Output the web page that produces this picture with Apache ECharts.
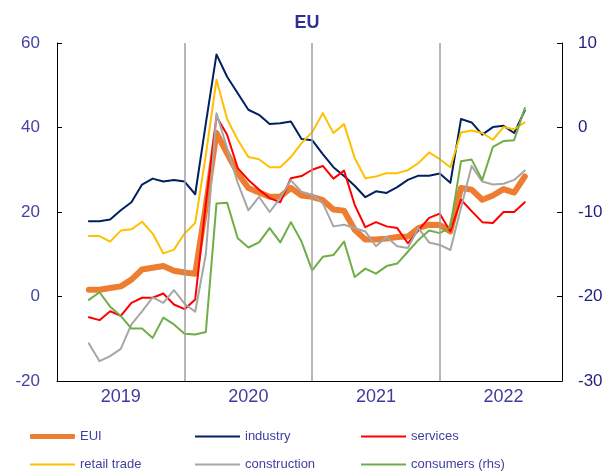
<!DOCTYPE html>
<html>
<head>
<meta charset="utf-8">
<script src="https://cdn.jsdelivr.net/npm/echarts@6/dist/echarts.min.js"></script>
<style>
html,body{margin:0;padding:0;background:#fff;}
#chart{width:614px;height:474px;}
</style>
</head>
<body>
<div id="chart"></div>
<script>
// Monthly observations, Apr 2019 - Sep 2022
const months = [
  '2019-04','2019-05','2019-06','2019-07','2019-08','2019-09','2019-10','2019-11','2019-12',
  '2020-01','2020-02','2020-03','2020-04','2020-05','2020-06','2020-07','2020-08','2020-09','2020-10','2020-11','2020-12',
  '2021-01','2021-02','2021-03','2021-04','2021-05','2021-06','2021-07','2021-08','2021-09','2021-10','2021-11','2021-12',
  '2022-01','2022-02','2022-03','2022-04','2022-05','2022-06','2022-07','2022-08','2022-09'
];
const years = ['2019','2020','2021','2022'];

const eui = [1.6,1.6,2.0,2.4,4.0,6.4,6.8,7.2,6.1,5.7,5.4,21.5,38.7,33.9,29.2,25.7,24.6,23.6,23.6,25.7,
  23.9,23.6,22.8,20.6,20.3,15.8,13.5,13.5,13.7,14.1,14.2,16.2,17.0,16.9,15.4,25.7,25.3,22.9,23.9,25.4,24.6,28.4];
const industry = [17.8,17.8,18.2,20.4,22.3,26.5,27.9,27.2,27.6,27.2,24.2,41.0,57.3,52.0,48.1,44.2,43.0,40.8,41.0,41.4,
  37.3,37.0,33.7,30.6,28.5,26.2,23.5,24.9,24.5,25.9,27.6,28.6,28.6,29.1,26.9,42.0,41.2,38.3,40.1,40.4,38.7,44.0];
const services = [-4.9,-5.6,-3.5,-4.6,-1.5,-0.3,-0.3,0.7,-1.9,-3.0,-0.7,22.0,42.6,38.3,30.4,27.6,25.3,23.3,22.3,28.0,
  28.5,30.0,30.9,27.9,29.8,21.7,16.4,17.6,16.6,16.2,12.6,15.7,18.6,19.6,15.4,22.9,20.2,17.6,17.4,20.0,20.0,22.3];
const retail = [14.3,14.3,13.0,15.6,15.9,17.7,14.9,10.2,11.1,14.9,17.4,33.5,51.3,42.0,37.1,33.0,32.5,30.6,30.6,33.0,
  36.3,38.9,43.4,38.7,40.8,32.8,28.0,28.4,29.2,29.2,29.9,31.6,34.1,32.5,30.6,38.8,39.3,38.7,37.1,40.1,39.6,41.2];
const construction = [-11.1,-15.3,-14.1,-12.4,-6.6,-3.5,-0.2,-1.5,1.5,-1.7,-3.6,10.0,43.4,35.1,26.9,20.4,23.6,20.0,23.3,27.5,
  24.8,24.1,22.1,16.6,17.0,16.2,15.4,11.9,14.1,11.9,11.5,16.2,12.8,12.2,11.0,21.0,30.9,27.2,26.5,26.7,27.6,29.8];
const consumers = [-20.4,-19.5,-21.2,-22.3,-23.8,-23.8,-24.9,-22.5,-23.3,-24.4,-24.5,-24.2,-9.0,-8.9,-13.1,-14.2,-13.6,-11.9,-13.6,-11.2,
  -13.5,-16.9,-15.3,-15.1,-13.5,-17.7,-16.7,-17.3,-16.4,-16.1,-14.7,-13.3,-12.2,-12.5,-11.8,-4.0,-3.8,-6.2,-2.3,-1.6,-1.5,2.3];

const seriesNames = ['EUI','industry','services','retail trade','construction','consumers (rhs)'];
const colors = ['#ED7D31','#002060','#FF0000','#FFC000','#A6A6A6','#70AD47'];

// month index since Jan 2019
const baseYear = Number(years[0]);
const monthIdx = months.map(m => { const [y, mo] = m.split('-').map(Number); return (y - baseYear) * 12 + (mo - 1); });
const pair = arr => arr.map((v, i) => [monthIdx[i], v]);
const yearStarts = years.slice(1).map((y, i) => (i + 1) * 12);
const yearMids = years.map((y, i) => i * 12 + 6);

const labelFont = 'Liberation Sans, Arial, sans-serif';

const chart = echarts.init(document.getElementById('chart'), null, {renderer: 'canvas'});

function line(name, data, idx, width, axis, extra) {
  return Object.assign({
    name: name, type: 'line', data: pair(data), yAxisIndex: axis || 0,
    symbol: 'none', showSymbol: false, smooth: false,
    lineStyle: {color: colors[idx], width: width, cap: 'round', join: 'round'},
    itemStyle: {color: colors[idx]},
    emphasis: {disabled: true}
  }, extra || {});
}

const legendText = {color: '#4040A0', fontSize: 13, fontFamily: labelFont};
const legendCols = [30, 195, 361];
const legendRows = [430, 458];
const legends = seriesNames.map((n, i) => ({
  data: [n], left: legendCols[i % 3], top: legendRows[Math.floor(i / 3)], padding: 0,
  icon: i === 0 ? 'roundRect' : 'rect', itemWidth: 45, itemHeight: i === 0 ? 5 : 2,
  textStyle: legendText, selectedMode: false
}));

chart.setOption({
  animation: false,
  backgroundColor: '#ffffff',
  title: {
    text: 'EU', left: 'center', top: 9,
    textStyle: {color: '#2E3192', fontSize: 18, fontWeight: 'bold', fontFamily: labelFont}
  },
  grid: {left: 57, right: 52, top: 43, bottom: 93, containLabel: false, outerBoundsMode: 'none'},
  legend: legends,
  xAxis: {
    type: 'value', min: 0, max: 47.5, interval: 12,
    axisLine: {show: true, onZero: false, lineStyle: {color: '#000', width: 1}},
    axisTick: {show: false},
    splitLine: {show: false},
    axisLabel: {
      customValues: yearMids, margin: 7,
      formatter: v => years[Math.round((v - 6) / 12)] || '',
      color: '#3C3CA0', fontSize: 18, fontFamily: labelFont
    }
  },
  yAxis: [
    {
      type: 'value', min: -20, max: 60, interval: 20, position: 'left',
      axisLine: {show: true, onZero: false, lineStyle: {color: '#000', width: 1}},
      axisTick: {show: true, inside: true, length: 5, lineStyle: {color: '#000'}},
      splitLine: {show: false},
      axisLabel: {color: '#4343A3', fontSize: 17, fontFamily: labelFont, margin: 17}
    },
    {
      type: 'value', min: -30, max: 10, interval: 10, position: 'right',
      axisLine: {show: true, onZero: false, lineStyle: {color: '#000', width: 1}},
      axisTick: {show: true, inside: true, length: 5, lineStyle: {color: '#000'}},
      splitLine: {show: false},
      axisLabel: {color: '#1F1F80', fontSize: 17, fontFamily: labelFont, margin: 16}
    }
  ],
  series: [
    line(seriesNames[0], eui, 0, 6, 0, {
      z: 2,
      markLine: {
        silent: true, symbol: ['none', 'none'], label: {show: false},
        lineStyle: {color: '#A0A0A0', width: 1.5, type: 'solid'},
        emphasis: {disabled: true},
        data: yearStarts.map(x => ({xAxis: x}))
      }
    }),
    line(seriesNames[1], industry, 1, 2),
    line(seriesNames[2], services, 2, 2),
    line(seriesNames[3], retail, 3, 2),
    line(seriesNames[4], construction, 4, 2),
    line(seriesNames[5], consumers, 5, 2, 1)
  ]
});
</script>
</body>
</html>
